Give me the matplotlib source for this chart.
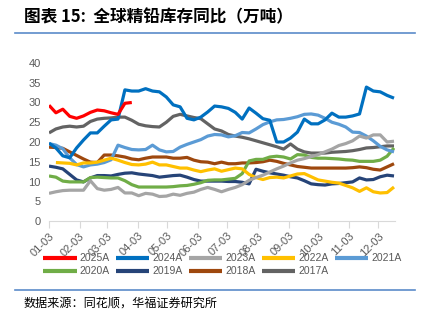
import numpy as np
import matplotlib
matplotlib.use("Agg")
import matplotlib.pyplot as plt

plt.rcParams['font.family'] = ['Liberation Sans', 'Noto Sans CJK SC', 'DejaVu Sans']

# --------------------------
# data (weekly, days counted from 01-03)
# --------------------------
month_labels = ["01-03", "02-03", "03-03", "04-03", "05-03", "06-03",
                "07-03", "08-03", "09-03", "10-03", "11-03", "12-03"]
month_days = [0, 31, 59, 90, 120, 151, 181, 212, 243, 273, 304, 334]

v2025 = [29.3, 27.4, 28.3, 26.5, 26.0, 26.6, 27.5, 28.1, 27.9, 27.4, 27.0, 29.8, 30.0]

v2024 = [19.7, 18.5, 16.5, 16.0, 18.5, 20.5, 22.3, 22.3, 24.0, 25.6, 25.8, 33.2, 32.9,
         32.9, 33.5, 32.9, 32.7, 31.4, 29.4, 28.9, 26.0, 25.6, 26.3, 27.6, 29.1, 28.9,
         28.5, 27.5, 25.8, 28.6, 27.3, 25.9, 25.5, 20.0, 20.0, 21.0, 22.5, 25.8, 24.6,
         24.6, 25.6, 27.3, 26.3, 26.3, 26.6, 27.1, 33.9, 32.9, 32.7, 31.8, 31.1]

v2023 = [7.0, 7.4, 7.7, 7.8, 7.8, 7.8, 10.2, 8.2, 7.8, 8.0, 8.5, 7.1, 7.1,
         6.4, 7.0, 6.8, 6.2, 6.3, 6.8, 6.5, 7.0, 7.3, 8.0, 8.5, 8.0, 7.4,
         8.0, 8.5, 9.2, 10.3, 11.0, 11.6, 12.4, 13.2, 13.9, 14.7, 15.4, 15.8, 16.3,
         16.8, 17.5, 18.2, 19.1, 19.6, 20.3, 21.5, 21.0, 21.8, 21.8, 20.0, 20.2]

v2022 = [np.nan, 14.8, 14.7, 14.6, 14.2, 14.7, 14.7, 14.9, 15.4, 15.9, 15.4, 14.8, 14.3,
         14.2, 14.4, 14.9, 14.2, 14.2, 13.8, 13.4, 13.4, 12.9, 12.5, 12.9, 13.2, 12.6,
         13.0, 13.4, 13.2, 11.8, 11.0, 10.5, 11.0, 11.1, 10.9, 11.4, 11.9, 12.0, 11.2,
         10.4, 10.1, 9.8, 9.6, 9.0, 8.4, 7.5, 8.4, 7.4, 7.1, 7.2, 8.6]

v2021 = [19.6, 19.2, 18.3, 16.0, 14.3, 13.7, 14.2, 14.4, 14.8, 15.5, 19.2, 18.6, 18.1,
         18.0, 18.1, 19.2, 18.0, 17.5, 17.6, 18.7, 19.4, 20.0, 20.6, 21.5, 21.9, 21.8,
         21.3, 21.6, 22.4, 22.3, 23.3, 24.4, 25.1, 25.6, 25.7, 26.0, 26.4, 27.0, 27.1,
         26.8, 26.0, 25.0, 24.5, 23.8, 22.5, 22.4, 21.5, 20.3, 18.9, 18.0, 17.5]

v2020 = [11.4, 11.1, 10.1, 9.9, 9.9, 9.9, 11.0, 11.1, 11.0, 10.9, 10.9, 10.2, 9.2,
         8.6, 8.6, 8.6, 8.6, 8.6, 8.7, 8.9, 9.0, 9.3, 9.7, 10.3, 10.4, 10.4,
         10.6, 10.8, 12.0, 15.2, 15.6, 15.6, 16.2, 16.4, 16.2, 15.7, 16.8, 16.7, 16.1,
         15.9, 15.9, 15.8, 15.7, 15.5, 15.4, 15.1, 15.1, 15.1, 15.4, 16.4, 18.5]

v2019 = [13.9, 13.6, 13.2, 11.8, 10.4, 9.9, 10.9, 11.5, 11.5, 11.4, 11.8, 12.1, 12.2,
         11.9, 11.7, 11.5, 11.1, 11.3, 11.5, 11.6, 11.1, 10.5, 10.1, 10.1, 10.1, 10.1,
         10.0, 10.0, 9.8, 9.4, 13.1, 12.6, 12.2, 11.9, 11.6, 11.2, 10.9, 10.2, 9.4,
         9.2, 9.1, 9.4, 9.5, 9.7, 9.9, 10.9, 10.4, 10.5, 11.2, 11.6, 11.4]

v2018 = [18.7, 18.6, 18.4, 17.5, 16.6, 15.7, 14.9, 14.8, 16.7, 16.7, 16.5, 16.2, 15.7,
         15.5, 15.9, 16.2, 16.2, 16.2, 15.9, 15.9, 16.1, 15.4, 15.0, 14.9, 14.5, 14.9,
         14.5, 14.5, 14.7, 14.7, 14.8, 15.0, 15.4, 15.1, 14.6, 14.2, 13.8, 13.6, 13.4,
         13.4, 13.4, 13.4, 13.4, 13.4, 13.5, 13.7, 13.5, 13.1, 12.9, 13.7, 14.5]

v2017 = [22.3, 23.3, 23.8, 24.0, 23.8, 24.0, 25.2, 25.8, 26.0, 26.1, 26.3, 26.3, 25.5,
         24.5, 24.1, 23.9, 23.8, 25.0, 26.5, 27.0, 26.6, 26.2, 25.9, 24.6, 23.3, 22.8,
         21.9, 21.5, 21.2, 20.8, 20.3, 19.8, 19.3, 18.8, 18.2, 19.5, 18.2, 17.5, 17.2,
         17.2, 17.2, 17.4, 17.5, 17.6, 17.8, 18.1, 18.5, 18.6, 18.8, 19.0, 19.0]

names = ["2025A", "2024A", "2023A", "2022A", "2021A",
         "2020A", "2019A", "2018A", "2017A"]
series = [v2025, v2024, v2023, v2022, v2021, v2020, v2019, v2018, v2017]
colors = ["#FF0000", "#0070C0", "#A5A5A5", "#FFC000", "#5B9BD5",
          "#70AD47", "#264478", "#9E480E", "#636363"]

# --------------------------
# figure
# --------------------------
W, H = 424, 330
fig = plt.figure(figsize=(W / 100, H / 100), dpi=100)

ax = fig.add_axes([49 / W, 1 - 221 / H, 346 / W, 158 / H])

lines = {}
for i, (name, vals, c) in enumerate(zip(names, series, colors)):
    x = np.arange(len(vals)) * 7
    ln, = ax.plot(x, vals, color=c, lw=2.3, zorder=10 - i, solid_capstyle='butt')
    lines[name] = ln

ax.set_xlim(0, 351)
ax.set_ylim(0, 40)
ax.set_yticks(range(0, 41, 5))
ax.set_xticks(month_days)
ax.set_xticklabels(month_labels, rotation=45, ha='right', va='top',
                   rotation_mode='anchor')
ax.tick_params(axis='x', length=5, color='#D9D9D9', labelsize=8,
               labelcolor='#595959', pad=2)
ax.tick_params(axis='y', length=0, labelsize=8, labelcolor='#595959', pad=6)

for s in ['top', 'right', 'left']:
    ax.spines[s].set_visible(False)
ax.spines['bottom'].set_color('#D9D9D9')

# legend, row-major order like the original
order = ["2025A", "2020A", "2024A", "2019A", "2023A",
         "2018A", "2022A", "2017A", "2021A"]
leg = fig.legend([lines[n] for n in order], order, ncol=5,
                 loc='upper left', bbox_to_anchor=(36 / W, 1 - 246 / H),
                 frameon=False, fontsize=7.5, handlelength=3.2,
                 handletextpad=0.3, columnspacing=0.6, labelspacing=0.3,
                 borderpad=0.2)
for t in leg.get_texts():
    t.set_color('#595959')
for h in leg.legend_handles:
    h.set_linewidth(3)

# title, rules and source
fig.text(24 / W, 1 - 17 / H, "图表 15:  全球精铅库存同比（万吨）",
         fontsize=12, fontweight='bold', va='center', ha='left',
         family=['Noto Sans CJK SC', 'DejaVu Sans'])
fig.add_artist(plt.Line2D([15 / W, 415 / W], [1 - 33 / H, 1 - 33 / H],
                          color='#5B8BC9', lw=1.2))
fig.add_artist(plt.Line2D([15 / W, 415 / W], [1 - 290 / H, 1 - 290 / H],
                          color='#5B8BC9', lw=1.2))
fig.text(24 / W, 1 - 303 / H, "数据来源：同花顺，华福证券研究所",
         fontsize=8.7, va='center', ha='left',
         family=['Noto Sans CJK SC', 'DejaVu Sans'])

fig.savefig("out.png", dpi=100)
